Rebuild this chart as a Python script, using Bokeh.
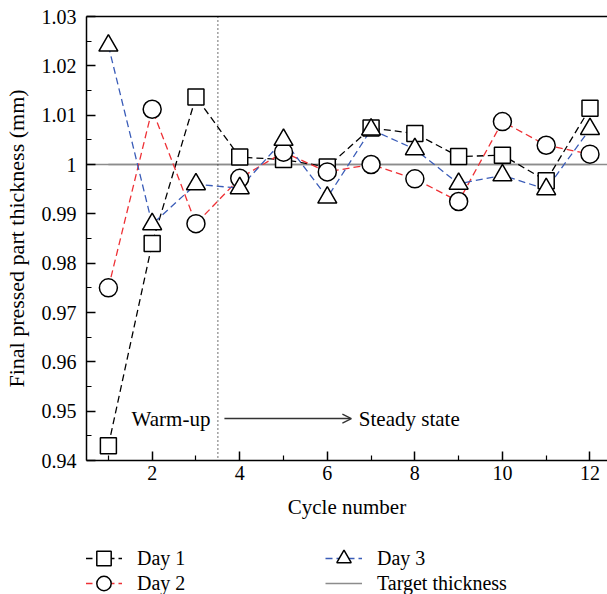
from bokeh.plotting import figure
from bokeh.layouts import column
from bokeh.models import (Range1d, FixedTicker, LinearAxis, Span, Label, Arrow, OpenHead,
                          Legend, LegendItem, CustomJSTickFormatter, ColumnDataSource)
from bokeh.embed import file_html
from bokeh.resources import INLINE

# ---- data ----
cycles = [1, 2, 3, 4, 5, 6, 7, 8, 9, 10, 11, 12]
day1 = [0.9430, 0.9840, 1.0137, 1.0015, 1.0010, 0.9995, 1.0074, 1.0063, 1.0016, 1.0019, 0.9967, 1.0114]
day2 = [0.9750, 1.0112, 0.9880, 0.9972, 1.0025, 0.9985, 1.0000, 0.9971, 0.9925, 1.0087, 1.0039, 1.0021]
day3 = [1.0241, 0.9879, 0.9960, 0.9952, 1.0050, 0.9933, 1.0071, 1.0031, 0.9961, 0.9978, 0.9950, 1.0072]
target = 1.0
boundary = 3.5
x_major = [2, 4, 6, 8, 10, 12]
x_minor = [1, 3, 5, 7, 9, 11]
y_major = [0.94, 0.95, 0.96, 0.97, 0.98, 0.99, 1.00, 1.01, 1.02, 1.03]
y_minor = [0.945, 0.955, 0.965, 0.975, 0.985, 0.995, 1.005, 1.015, 1.025]
series_names = ["Day 1", "Day 2", "Day 3"]
target_name = "Target thickness"
warm_label = "Warm-up"
steady_label = "Steady state"
warm_x, arrow_x0, arrow_x1, steady_x, note_y = 3.33, 3.65, 6.55, 6.72, 0.9485

FONT = "Liberation Serif"

p = figure(width=607, height=525, output_backend="svg", toolbar_location=None,
           x_range=Range1d(0.5, 12.4), y_range=Range1d(0.94, 1.03),
           x_axis_label="Cycle number", y_axis_label="Final pressed part thickness (mm)")
p.min_border_left = 81
p.min_border_right = 0
p.min_border_top = 16
p.min_border_bottom = 65
p.outline_line_color = None
p.xgrid.visible = False
p.ygrid.visible = False
p.background_fill_color = "white"
p.border_fill_color = "white"

for ax in (p.xaxis[0], p.yaxis[0]):
    ax.axis_line_width = 1.5
    ax.axis_line_color = "black"
    ax.major_tick_line_width = 1.5
    ax.minor_tick_line_width = 1.2
    ax.major_tick_out = 0
    ax.minor_tick_out = 0
    ax.major_tick_in = 9
    ax.minor_tick_in = 5
    ax.major_label_text_font = FONT
    ax.major_label_text_font_size = "20px"
    ax.major_label_text_color = "black"
    ax.axis_label_text_font = FONT
    ax.axis_label_text_font_style = "normal"
    ax.axis_label_text_color = "black"

p.xaxis[0].axis_label_text_font_size = "21px"
p.yaxis[0].axis_label_text_font_size = "22px"
p.xaxis[0].ticker = FixedTicker(ticks=x_major, minor_ticks=x_minor)
p.yaxis[0].ticker = FixedTicker(ticks=y_major, minor_ticks=y_minor)
p.yaxis[0].formatter = CustomJSTickFormatter(code="var s = tick.toFixed(2); return s === '1.00' ? '1' : s;")
p.xaxis[0].major_label_standoff = 5
p.yaxis[0].major_label_standoff = 10
p.xaxis[0].axis_label_standoff = 12
p.yaxis[0].axis_label_standoff = 10

top_axis = LinearAxis(ticker=FixedTicker(ticks=[]), major_label_text_font_size="0px",
                      axis_line_width=1.5, major_tick_out=0, minor_tick_out=0)
p.add_layout(top_axis, "above")

# reference lines
p.add_layout(Span(location=target, dimension="width", line_color="#8c8c8c", line_width=1.5, level="underlay"))
p.add_layout(Span(location=boundary, dimension="height", line_color="#333333", line_width=1.4,
                  line_dash="1 3", level="underlay"))

src = ColumnDataSource(dict(x=cycles, d1=day1, d2=day2, d3=day3, t=[target] * len(cycles)))

cols = ["d1", "d2", "d3"]
colors = ["black", "#ee3035", "#3a5cb8"]
markers = ["square", "circle", "triangle"]
sizes = [16, 18, 19]

def draw(fig):
    tl = fig.line("x", "t", source=src, line_color="#8c8c8c", line_width=1.5, level="underlay")
    ls = [fig.line("x", c, source=src, line_color=col, line_width=1.3, line_dash="7 4")
          for c, col in zip(cols, colors)]
    ms = [fig.scatter("x", c, source=src, marker=mk, size=sz, fill_color="white",
                      line_color="black", line_width=1.5)
          for c, mk, sz in zip(cols, markers, sizes)]
    return tl, ls, ms

draw(p)

# annotations
p.add_layout(Label(x=warm_x, y=note_y, text=warm_label, text_align="right", text_baseline="middle",
                   text_font=FONT, text_font_size="21px", text_color="black"))
p.add_layout(Label(x=steady_x, y=note_y, text=steady_label, text_align="left", text_baseline="middle",
                   text_font=FONT, text_font_size="21px", text_color="black"))
p.add_layout(Arrow(end=OpenHead(size=9, line_color="#333333", line_width=1.3),
                   x_start=arrow_x0, y_start=note_y, x_end=arrow_x1, y_end=note_y,
                   line_color="#333333", line_width=1.5))

# ---- legend panel (separate figure, data kept out of view) ----
lf = figure(width=607, height=69, output_backend="svg", toolbar_location=None,
            x_range=Range1d(100, 101), y_range=Range1d(100, 101))
lf.axis.visible = False
lf.grid.visible = False
lf.outline_line_color = None
lf.min_border_left = 81
lf.min_border_right = 0
lf.min_border_top = 0
lf.min_border_bottom = 0
tl, ls, ms = draw(lf)
entries = [(n, [l, m]) for n, l, m in zip(series_names, ls, ms)] + [(target_name, [tl])]
# one legend per entry: (column offset, row offset) in screen px
slots = [(-1, 18), (-1, -7), (239, 18), (239, -7)]
for (name, rends), loc in zip(entries, slots):
    lg = Legend(items=[LegendItem(label=name, renderers=rends)], location=loc)
    lg.label_text_font = FONT
    lg.label_text_font_size = "20px"
    lg.label_text_color = "black"
    lg.glyph_width = 37
    lg.glyph_height = 36
    lg.label_height = 20
    lg.label_standoff = 15
    lg.padding = 0
    lg.margin = 0
    lg.border_line_color = None
    lg.background_fill_alpha = 0
    lf.add_layout(lg, "center")

layout = column(p, lf, spacing=0)
open("out.html", "w").write(file_html(layout, INLINE))
